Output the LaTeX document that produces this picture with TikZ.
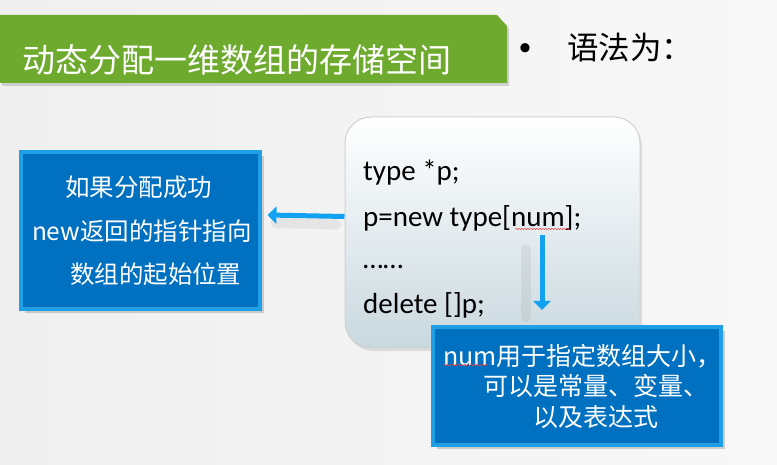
\documentclass[tikz,border=0pt]{standalone}
\usepackage{fontspec}
\setmainfont{Carlito}
\newfontfamily\cjk{Noto Sans CJK SC}
\usetikzlibrary{arrows.meta,positioning,shadows,decorations.pathmorphing}
\definecolor{bannergreen}{HTML}{6EAA2E}
\definecolor{boxblue}{HTML}{0070C0}
\definecolor{bevelblue}{HTML}{1E9FE6}
\definecolor{arrowblue}{HTML}{12A2F0}
\definecolor{codebot}{HTML}{C9D8DF}
\definecolor{bgleft}{HTML}{EFEFEF}
\definecolor{bgright}{HTML}{F8F8F8}

\begin{document}
\begin{tikzpicture}[
  x=1pt, y=-1pt,
  >=Triangle,
  bluebox/.style={draw=bevelblue, line width=4pt, fill=boxblue, text=white,
    drop shadow={opacity=0.35, shadow xshift=4pt, shadow yshift=-4pt}},
  codeline/.style={anchor=base west, font=\fontsize{29}{31}\selectfont, inner sep=0pt},
  barrow/.style={->, arrowblue, line width=5pt, >={Triangle[width=17pt,length=9pt]}},
  ashadow/.style={gray, opacity=0.12, line width=10pt, line cap=round},
  squiggle/.style={red!80, line width=0.5pt,
    decorate, decoration={snake, amplitude=0.6pt, segment length=3pt}},
  every node/.style={ }
]

% --- background and frame
\fill[left color=bgleft, right color=bgright] (0,0) rectangle (777,465);
\useasboundingbox (0,0) rectangle (777,465);

% --- green title banner
\fill[bannergreen, drop shadow={opacity=0.3, shadow xshift=2pt, shadow yshift=-3pt}]
  (0,15) -- (497,15) -- (507,26) -- (507,83) -- (0,83) -- cycle;
\node[anchor=west, text=white, font=\cjk\fontsize{33}{36}\selectfont, inner sep=0pt]
  (title) at (22,60) {动态分配一维数组的存储空间};

% --- bullet line
\node[font=\fontsize{26}{28}\selectfont, inner sep=0pt] (bullet) at (525,50) {•};
\node[anchor=west, font=\cjk\fontsize{31.5}{34}\selectfont, inner sep=0pt]
  (syntax) at (567,48) {语法为：};

% --- code box
\node[draw=gray!35, line width=1pt, rounded corners=26pt,
      top color=white, bottom color=codebot,
      minimum width=295pt, minimum height=231pt,
      drop shadow={opacity=0.2, shadow xshift=2pt, shadow yshift=-3pt}]
  (code) at (492.5,232.5) {};
\node[codeline] (ln1) at (363,181) {type *p;};
\node[codeline] (ln2) at (363,227) {p=new type[num];};
\node[codeline] (ln3) at (363,269) {……};
\node[codeline] (ln4) at (363,314) {delete []p;};
\draw[squiggle] (515,229) -- (570,229);

% --- left note box
\node[bluebox, minimum width=239pt, minimum height=157pt,
      text width=216pt, align=left,
      font=\cjk\fontsize{24.5}{43.5}\selectfont]
  (result) at (140,231)
  {\hspace*{33pt}如果分配成功\\new返回的指针指向\\\hspace*{38pt}数组的起始位置};

% --- bottom note box
\node[bluebox, minimum width=288pt, minimum height=118pt,
      text width=268pt, align=left,
      font=\cjk\fontsize{25}{30.5}\selectfont]
  (numnote) at (577,386)
  {num用于指定数组大小，\\\hspace*{40pt}可以是常量、变量、\\\hspace*{90pt}以及表达式};
\draw[squiggle] (443,365) -- (488,365);

% --- arrows
\coordinate (numdown) at (542,235);
\draw[ashadow] ([xshift=-8pt,yshift=8pt]code.west) -- ([xshift=14pt,yshift=8pt]result.east);
\draw[ashadow] ([xshift=-16pt,yshift=-14pt]numdown) -- ([xshift=-16pt,yshift=8pt]numdown |- numnote.north);
\draw[barrow] ([yshift=16pt]code.west) -- ([xshift=6pt,yshift=16pt]result.east);
\draw[barrow] (numdown) -- ([yshift=15pt]numdown |- numnote.north);

\end{tikzpicture}
\end{document}
